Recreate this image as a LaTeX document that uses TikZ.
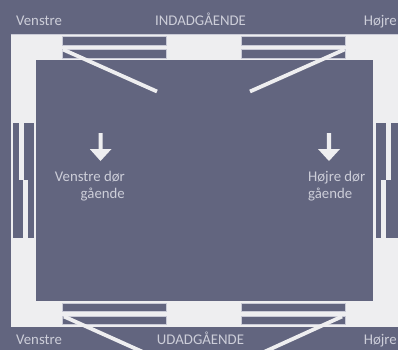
\documentclass[tikz,border=0pt]{standalone}
\usepackage{fontspec}
\setmainfont{Carlito}
\definecolor{bgc}{HTML}{62657F}
\definecolor{wallc}{HTML}{EEEEF0}
\definecolor{txtc}{HTML}{CDCED9}
\definecolor{edgec}{HTML}{C9CAD6}
\tikzset{
  lbl/.style={text=txtc,font=\fontsize{14.8bp}{16bp}\selectfont,inner sep=0pt},
  wall/.style={fill=wallc,draw=none},
  pane/.style={fill=bgc,draw=edgec,line width=0.7bp},
  slab/.style={draw=wallc,line width=3.8bp},
  downarrow/.style={fill=wallc,draw=none}
}
\begin{document}
\begin{tikzpicture}[x=1bp,y=-1bp]
\path[use as bounding box,fill=bgc] (0,0) rectangle (398,350);
% frame
\fill[wall] (10.5,34.5) -- (398,34.5) -- (398,326.7) -- (10.5,326.7) -- cycle;
\fill[bgc] (36,60) rectangle (373.3,301.3);
\draw[edgec,line width=0.5bp] (10.5,34.5) -- (398,34.5);
% top panes
\draw[pane] (62.5,36.8) rectangle (166,45);
\draw[pane] (62.5,49.8) rectangle (166,58.2);
\draw[pane] (241,36.8) rectangle (345,45);
\draw[pane] (241,49.8) rectangle (345,58.2);
% bottom panes
\draw[pane] (62.5,303.3) rectangle (166,311.5);
\draw[pane] (62.5,316) rectangle (166,324.5);
\draw[pane] (241,303.3) rectangle (345,311.5);
\draw[pane] (241,316) rectangle (345,324.5);
% door leaves
\clip (0,0) rectangle (398,350);
\draw[slab] (63,49.5) -- (157,91.5);
\draw[slab] (344.5,49.5) -- (250,91.5);
\draw[slab] (64,316.5) -- (143,352);
\draw[slab] (342,316.5) -- (264,352);
% left side panes
\fill[bgc] (13,123) rectangle (19,180);
\fill[bgc] (13,180) rectangle (23,238);
\fill[bgc] (24,123) rectangle (34,180);
\fill[bgc] (28,180) rectangle (34,238);
% right side panes
\fill[bgc] (375.5,123) rectangle (386,180);
\fill[bgc] (375.5,180) rectangle (381,238);
\fill[bgc] (391,123) rectangle (398,180);
\fill[bgc] (386,180) rectangle (398,238);
% arrows
\fill[downarrow] (98.5,133) -- (102.5,133) -- (102.5,149) -- (111.5,149) -- (100.5,161) -- (89.8,149) -- (98.5,149) -- cycle;
\fill[downarrow] (326.8,133) -- (331,133) -- (331,149) -- (340,149) -- (329,161) -- (318,149) -- (326.8,149) -- cycle;
% labels
\node[lbl,anchor=base west] (vt) at (16,25.5) {Venstre};
\node[lbl,anchor=base] (ind) at (200.5,25.5) {INDADGÅENDE};
\node[lbl,anchor=base east] (ht) at (397,25.5) {Højre};
\node[lbl,anchor=base west] (vb) at (16,344.5) {Venstre};
\node[lbl,anchor=base] (ud) at (200.5,344.5) {UDADGÅENDE};
\node[lbl,anchor=base east] (hb) at (397,344.5) {Højre};
\node[lbl,anchor=base east] (vd1) at (125,181.5) {Venstre dør};
\node[lbl,anchor=base east] (vd2) at (125,198) {gående};
\node[lbl,anchor=base west] (hd1) at (308,181.5) {Højre dør};
\node[lbl,anchor=base west] (hd2) at (308,198) {gående};
\end{tikzpicture}
\end{document}
